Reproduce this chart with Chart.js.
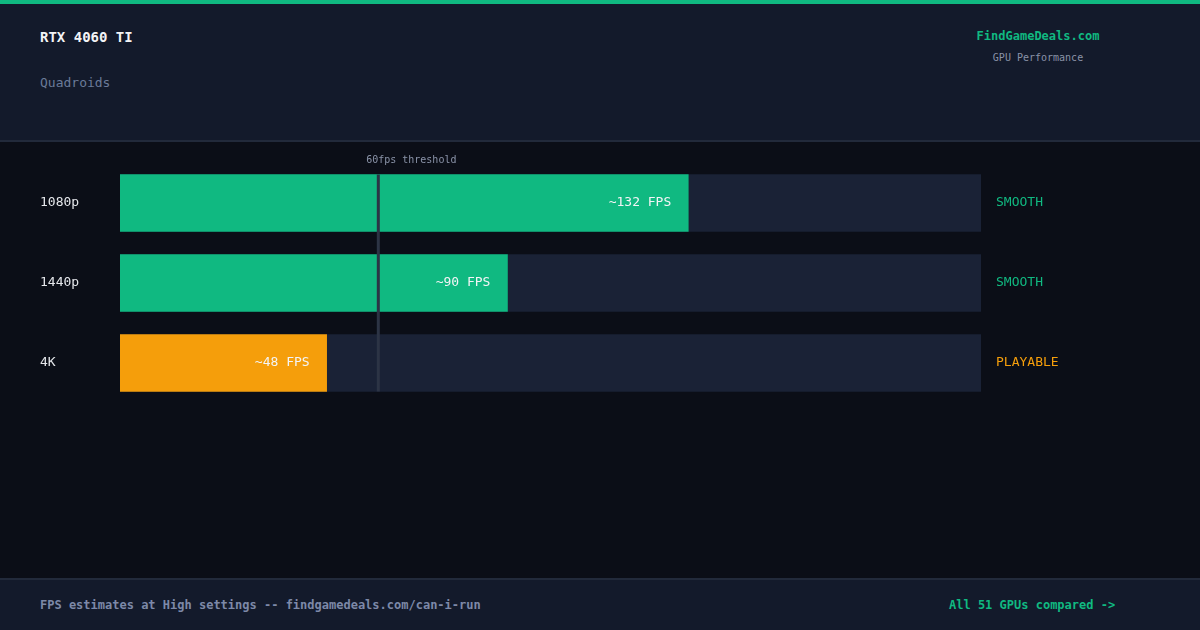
<!DOCTYPE html>
<html>
<head>
<meta charset="utf-8">
<script src="https://cdn.jsdelivr.net/npm/chart.js@4"></script>
<style>
  body { margin: 0; width: 1200px; height: 630px; background: #0b0e17; font-family: "DejaVu Sans Mono", monospace; overflow: hidden; position: relative; }
  .topline { position: absolute; left: 0; top: 0; width: 1200px; height: 4px; background: #10b981; }
  .header { position: absolute; left: 0; top: 4px; width: 1200px; height: 136px; background: #131a2b; border-bottom: 2px solid #222a3b; }
  .footer { position: absolute; left: 0; top: 578px; width: 1200px; height: 52px; background: #131a2b; border-top: 2px solid #222a3b; }
  .t { position: absolute; white-space: nowrap; }
  canvas { position: absolute; left: 0; top: 0; }
</style>
</head>
<body>
<div class="topline"></div>
<div class="header">
  <div class="t" style="left:40px;top:25px;color:#f3f4f6;font-size:14px;font-weight:bold;">RTX 4060 TI</div>
  <div class="t" style="left:40px;top:71px;color:#6b7a99;font-size:13px;">Quadroids</div>
  <div class="t" style="left:938px;width:200px;text-align:center;top:25px;color:#10b981;font-size:12px;font-weight:bold;">FindGameDeals.com</div>
  <div class="t" style="left:938px;width:200px;text-align:center;top:48px;color:#8a93a8;font-size:10px;">GPU Performance</div>
</div>
<div class="footer">
  <div class="t" style="left:40px;top:18px;color:#7d89a8;font-size:12px;font-weight:bold;">FPS estimates at High settings -- findgamedeals.com/can-i-run</div>
  <div class="t" style="left:949px;top:18px;color:#10b981;font-size:12px;font-weight:bold;">All 51 GPUs compared -&gt;</div>
</div>
<canvas id="c" width="1200" height="630"></canvas>
<script>
const resolutions = ['1080p', '1440p', '4K'];
const fps = [132, 90, 48];
const statuses = ['SMOOTH', 'SMOOTH', 'PLAYABLE'];
const maxFps = 200;
const threshold = 60;

const colorFor = s => s === 'SMOOTH' ? '#10b981' : '#f59e0b';

const overlay = {
  id: 'overlay',
  afterDatasetsDraw(chart) {
    const ctx = chart.ctx, x = chart.scales.x, y = chart.scales.y;
    ctx.save();
    // threshold line
    const tx = x.getPixelForValue(threshold);
    ctx.fillStyle = '#2c3445';
    ctx.fillRect(tx - 1.5, y.getPixelForValue(0) - 28.5, 3, y.getPixelForValue(2) - y.getPixelForValue(0) + 57);
    ctx.font = '10px "DejaVu Sans Mono"';
    ctx.fillStyle = '#8a93a8';
    ctx.textAlign = 'center';
    ctx.textBaseline = 'middle';
    ctx.fillText('60fps threshold', tx + 33, 160);
    ctx.font = '13px "DejaVu Sans Mono"';
    resolutions.forEach((r, i) => {
      const cy = y.getPixelForValue(i);
      ctx.textAlign = 'left';
      ctx.fillStyle = '#e5e7eb';
      ctx.fillText(r, 40, cy);
      ctx.fillStyle = colorFor(statuses[i]);
      ctx.fillText(statuses[i], 996, cy);
      ctx.textAlign = 'right';
      ctx.fillStyle = '#f3f4f6';
      ctx.fillText('~' + fps[i] + ' FPS', x.getPixelForValue(fps[i]) - 17, cy);
    });
    ctx.restore();
  }
};

new Chart(document.getElementById('c'), {
  type: 'bar',
  data: {
    labels: resolutions,
    datasets: [
      { data: fps, backgroundColor: statuses.map(colorFor), barThickness: 57, grouped: false, order: 1 },
      { data: resolutions.map(() => maxFps), backgroundColor: '#1a2236', barThickness: 57, grouped: false, order: 2 }
    ]
  },
  options: {
    indexAxis: 'y',
    responsive: false,
    animation: false,
    layout: { padding: { left: 120, right: 219, top: 163, bottom: 227 } },
    plugins: { legend: { display: false }, tooltip: { enabled: false } },
    scales: {
      x: { display: false, min: 0, max: maxFps },
      y: { display: false }
    }
  },
  plugins: [overlay]
});
</script>
</body>
</html>
